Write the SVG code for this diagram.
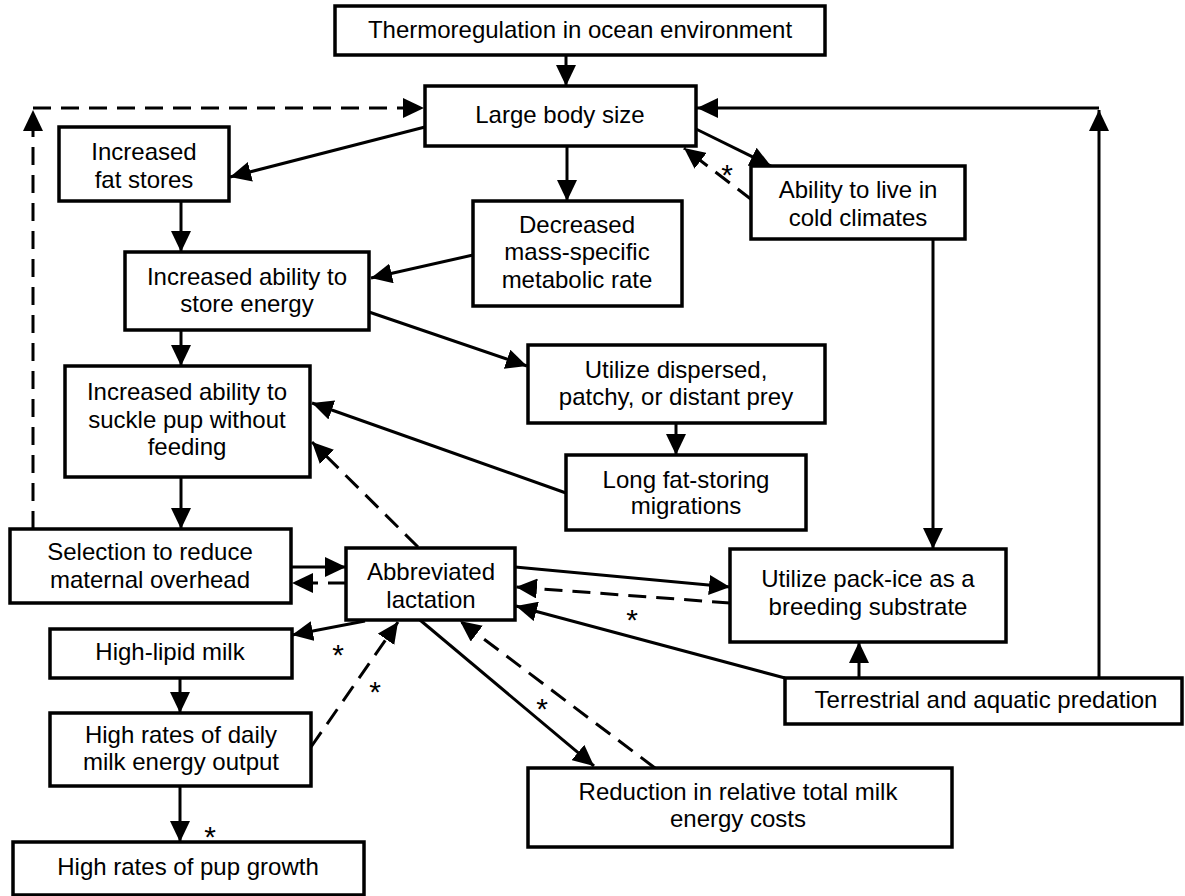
<svg xmlns="http://www.w3.org/2000/svg" width="1185" height="896" viewBox="0 0 1185 896">
<defs>
<style>
.node rect{fill:#fff;stroke:#000;stroke-width:3.5}
.node text,.ast{font-family:"Liberation Sans",Arial,Helvetica,sans-serif;font-size:24px;text-anchor:middle;fill:#000}
.ast{font-size:30px}
.ln{stroke:#000;stroke-width:3;fill:none;marker-end:url(#arr)}
.dash{stroke-dasharray:18 10}
</style>
<marker id="arr" viewBox="0 0 21 20" markerWidth="21" markerHeight="20" refX="21" refY="10" orient="auto" markerUnits="userSpaceOnUse">
<path d="M0,0 L21,10 L0,20 z" fill="#000"/>
</marker>
</defs>
<rect width="1185" height="896" fill="#fff"/>
<g id="connectors">
<path class="ln" d="M566,55 L566,86"/>
<path class="ln" d="M425,127 L230,177"/>
<path class="ln" d="M567,146 L567,201"/>
<path class="ln" d="M696,129 L771,166"/>
<path class="ln dash" d="M752,200 L684,148"/>
<path class="ln" d="M181,201 L181,252"/>
<path class="ln" d="M473,255 L371,278"/>
<path class="ln" d="M369,312 L527,366"/>
<path class="ln" d="M181,330 L181,366"/>
<path class="ln" d="M676,423 L676,455"/>
<path class="ln" d="M566,493 L312,403"/>
<path class="ln" d="M933,239 L933,549"/>
<path class="ln" d="M181,477 L181,529"/>
<path class="ln dash" d="M418,547 L312,442"/>
<path class="ln" d="M291,567 L346,567"/>
<path class="ln dash" d="M346,583 L292,583"/>
<path class="ln" d="M515,567 L730,587"/>
<path class="ln dash" d="M730,603 L516,587"/>
<path class="ln" d="M785,678 L516,606"/>
<path class="ln" d="M859,678 L859,642"/>
<path class="ln" d="M1099,678 L1099,110"/>
<path class="ln" d="M1099,108 L697,108"/>
<path class="ln dash" d="M33,529 L33,110"/>
<path class="ln dash" d="M33,108 L424,108"/>
<path class="ln" d="M365,621 L292,635"/>
<path class="ln" d="M180,678 L180,713"/>
<path class="ln dash" d="M311,747 L398,622"/>
<path class="ln" d="M180,786 L180,842"/>
<path class="ln" d="M420,620 L594,766"/>
<path class="ln dash" d="M655,768 L460,621"/>
<text class="ast" x="727" y="185">*</text>
<text class="ast" x="632" y="630">*</text>
<text class="ast" x="338" y="665">*</text>
<text class="ast" x="375" y="702">*</text>
<text class="ast" x="542" y="719">*</text>
<text class="ast" x="210" y="847">*</text>
</g>
<g id="thermo" class="node"><rect x="335" y="6" width="490" height="49"/><text x="580" y="38">Thermoregulation in ocean environment</text></g>
<g id="large" class="node"><rect x="425" y="86" width="271" height="60"/><text x="560" y="123">Large body size</text></g>
<g id="fat" class="node"><rect x="59" y="127" width="170" height="74"/><text x="144" y="160">Increased</text><text x="144" y="188">fat stores</text></g>
<g id="decreased" class="node"><rect x="473" y="201" width="209" height="105"/><text x="577" y="233">Decreased</text><text x="577" y="260">mass-specific</text><text x="577" y="288">metabolic rate</text></g>
<g id="ability" class="node"><rect x="751" y="166" width="214" height="73"/><text x="858" y="198">Ability to live in</text><text x="858" y="226">cold climates</text></g>
<g id="store" class="node"><rect x="125" y="252" width="244" height="78"/><text x="247" y="285">Increased ability to</text><text x="247" y="312">store energy</text></g>
<g id="dispersed" class="node"><rect x="528" y="345" width="297" height="78"/><text x="676" y="378">Utilize dispersed,</text><text x="676" y="405">patchy, or distant prey</text></g>
<g id="suckle" class="node"><rect x="65" y="366" width="245" height="111"/><text x="187" y="400">Increased ability to</text><text x="187" y="428">suckle pup without</text><text x="187" y="455">feeding</text></g>
<g id="long" class="node"><rect x="566" y="455" width="240" height="75"/><text x="686" y="488">Long fat-storing</text><text x="686" y="514">migrations</text></g>
<g id="selection" class="node"><rect x="10" y="529" width="281" height="74"/><text x="150" y="560">Selection to reduce</text><text x="150" y="588">maternal overhead</text></g>
<g id="abbrev" class="node"><rect x="346" y="548" width="169" height="72"/><text x="431" y="580">Abbreviated</text><text x="431" y="608">lactation</text></g>
<g id="packice" class="node"><rect x="730" y="549" width="276" height="93"/><text x="868" y="587">Utilize pack-ice as a</text><text x="868" y="615">breeding substrate</text></g>
<g id="predation" class="node"><rect x="785" y="678" width="397" height="46"/><text x="986" y="708">Terrestrial and aquatic predation</text></g>
<g id="lipid" class="node"><rect x="50" y="629" width="242" height="49"/><text x="170" y="660">High-lipid milk</text></g>
<g id="daily" class="node"><rect x="50" y="713" width="261" height="73"/><text x="181" y="743">High rates of daily</text><text x="181" y="770">milk energy output</text></g>
<g id="pup" class="node"><rect x="13" y="842" width="351" height="53"/><text x="188" y="875">High rates of pup growth</text></g>
<g id="reduction" class="node"><rect x="528" y="768" width="424" height="79"/><text x="738" y="800">Reduction in relative total milk</text><text x="738" y="827">energy costs</text></g>
</svg>
